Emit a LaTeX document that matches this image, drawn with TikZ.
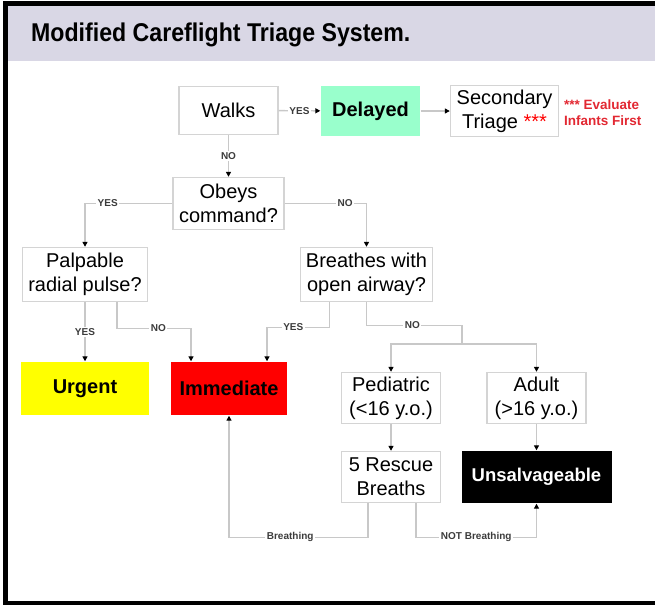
\documentclass[tikz,border=0pt]{standalone}
\usepackage{fontspec}
\setmainfont{Liberation Sans}
\newfontfamily\titlefont[FakeStretch=0.9]{Liberation Sans}
\usepackage{xcolor}
\usetikzlibrary{arrows.meta}

\definecolor{bandlav}{RGB}{217,215,229}
\definecolor{mintgreen}{RGB}{153,255,204}
\definecolor{urgentyellow}{RGB}{255,255,0}
\definecolor{immedred}{RGB}{255,0,0}
\definecolor{boxgray}{RGB}{212,212,212}
\definecolor{linegray}{RGB}{200,200,200}
\definecolor{labelgray}{RGB}{60,60,60}
\definecolor{starred}{RGB}{255,0,0}
\definecolor{evalred}{RGB}{226,40,50}

\begin{document}
\begin{tikzpicture}[x=1pt, y=-1pt,
  box/.style={draw=boxgray, line width=1.4pt, fill=white, align=center, inner sep=0pt, font=\fontsize{20}{24}\selectfont},
  catbox/.style={box, draw=none, font=\bfseries\fontsize{20}{24}\selectfont},
  wire/.style={draw=linegray, line width=1.4pt},
  conn/.style={wire, -{Triangle[color=black, length=5pt, width=5pt]}},
  lbl/.style={fill=white, text=labelgray, inner sep=1.5pt, font=\bfseries\fontsize{10}{10}\selectfont}]
% frame
\useasboundingbox (0,0) rectangle (655,605);
\fill[black] (3,1) rectangle (655,6);
\fill[black] (3,1) rectangle (7.5,605);
\fill[black] (3,601) rectangle (655,605);
\fill[bandlav] (7.5,6) rectangle (655,61);
\node[anchor=base west, inner sep=0pt, font=\titlefont\bfseries\fontsize{25.7}{30}\selectfont] (title) at (31,41) {Modified Careflight Triage System.};
% boxes
\node[box, minimum width=99pt, minimum height=48pt] (walks) at (228.5,110.5) {Walks};
\node[catbox, fill=mintgreen, minimum width=99pt, minimum height=50pt] (delayed) at (370.5,111) {Delayed};
\node[box, minimum width=108pt, minimum height=51pt] (secondary) at (504.5,111) {Secondary\\Triage {\color{starred}***}};
\node[anchor=west, align=left, inner sep=0pt, text=evalred, font=\bfseries\fontsize{13.5}{16}\selectfont] (evaluate) at (564,113) {*** Evaluate\\Infants First};
\node[box, minimum width=111pt, minimum height=52pt] (obeys) at (228.5,203.5) {Obeys\\command?};
\node[box, minimum width=125pt, minimum height=54pt] (palpable) at (85,274.5) {Palpable\\radial pulse?};
\node[box, minimum width=132pt, minimum height=54pt] (breathes) at (366.5,274.5) {Breathes with\\open airway?};
\node[catbox, fill=urgentyellow, minimum width=128pt, minimum height=53pt] (urgent) at (85,388.5) {Urgent};
\node[catbox, fill=immedred, minimum width=116pt, minimum height=53pt] (immediate) at (229,388.5) {Immediate};
\node[box, minimum width=99pt, minimum height=51pt] (pediatric) at (391,398) {Pediatric\\(<16 y.o.)};
\node[box, minimum width=99pt, minimum height=51pt] (adult) at (536.5,398) {Adult\\(>16 y.o.)};
\node[box, minimum width=99pt, minimum height=51pt] (rescue) at (391,477) {5 Rescue\\Breaths};
\node[catbox, fill=black, text=white, minimum width=150pt, minimum height=52pt, font=\bfseries\fontsize{18.5}{22}\selectfont] (unsalv) at (536.5,477) {Unsalvageable};
% connectors
\draw[conn] (walks) -- node[lbl] {YES} (delayed);
\draw[conn] (delayed) -- (secondary);
\draw[conn] (walks) -- node[lbl] {NO} (obeys);
\draw[conn] (obeys) -| node[lbl, pos=0.37] {YES} (palpable);
\draw[conn] (obeys) -| node[lbl, pos=0.37] {NO} (breathes);
\draw[conn] (palpable) -- node[lbl] {YES} (urgent);
\draw[conn] ([xshift=32pt]palpable.south) -- ++(0,26) -| node[lbl, pos=0.28] {NO} ([xshift=-38pt]immediate.north);
\draw[conn] ([xshift=-37pt]breathes.south) -- ++(0,25) -| node[lbl, pos=0.29] {YES} ([xshift=38pt]immediate.north);
\coordinate (split) at (462,344);
\draw[wire] (breathes.south) -- ++(0,23) -| node[lbl, pos=0.24] {NO} (split);
\draw[conn] (split) -| (pediatric);
\draw[conn] (split) -| (adult);
\draw[conn] (pediatric) -- (rescue);
\draw[conn] (adult) -- (unsalv);
\draw[conn] ([xshift=-23pt]rescue.south) -- ++(0,34) -| node[lbl, pos=0.28] {Breathing} (immediate);
\draw[conn] ([xshift=25pt]rescue.south) -- ++(0,34) -| node[lbl, pos=0.25] {NOT Breathing} (unsalv);
\end{tikzpicture}
\end{document}
